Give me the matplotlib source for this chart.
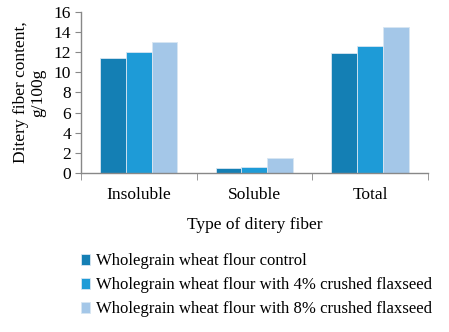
import matplotlib
matplotlib.use("Agg")
import matplotlib.pyplot as plt
import numpy as np

plt.rcParams['font.family'] = ['Liberation Serif', 'DejaVu Serif']

categories = ['Insoluble', 'Soluble', 'Total']
series_names = ['Wholegrain wheat flour control',
                'Wholegrain wheat flour with 4% crushed flaxseed',
                'Wholegrain wheat flour with 8% crushed flaxseed']
control = [11.4, 0.5, 11.9]
flax4 = [12.05, 0.6, 12.6]
flax8 = [13.0, 1.5, 14.55]
yticks = [0, 2, 4, 6, 8, 10, 12, 14, 16]
colors = ['#147fb4', '#1e9bd7', '#a4c7e8']
fs = 12.5

fig = plt.figure(figsize=(4.49, 3.32), dpi=100)
ax = fig.add_axes([0.180, 0.479, 0.773, 0.485])

x = np.arange(len(categories))
w = 0.667 / 3
for i, vals in enumerate([control, flax4, flax8]):
    ax.bar(x + (i - 1) * w, vals, w, color=colors[i], edgecolor='#d8e6f2',
           linewidth=0.6, label=series_names[i])

ax.set_xlim(-0.5, 2.5)
ax.set_ylim(0, 16)
ax.set_yticks(yticks)
ax.set_xticks(x)
ax.set_xticklabels(categories, fontsize=fs)
ax.tick_params(axis='x', length=0, pad=10)
ax.set_xticks([-0.5, 0.5, 1.5, 2.5], minor=True)
ax.tick_params(axis='x', which='minor', length=5, color='#888888', direction='out')
ax.tick_params(axis='y', labelsize=fs, length=4, color='#888888', pad=3)
for s in ['top', 'right']:
    ax.spines[s].set_visible(False)
for s in ['left', 'bottom']:
    ax.spines[s].set_color('#888888')
    ax.spines[s].set_linewidth(1.0)

ax.set_xlabel('Type of ditery fiber', fontsize=fs, labelpad=10)
ax.set_ylabel('Ditery fiber content,\ng/100g', fontsize=fs, labelpad=5,
              linespacing=1.1)

handles, labels = ax.get_legend_handles_labels()
fig.legend(handles, labels, loc='upper left', bbox_to_anchor=(0.180, 0.237),
           frameon=False, fontsize=12.1, handlelength=0.55, handleheight=0.7,
           handletextpad=0.35, labelspacing=0.48, borderpad=0,
           borderaxespad=0)

fig.savefig('out.png', dpi=100)
